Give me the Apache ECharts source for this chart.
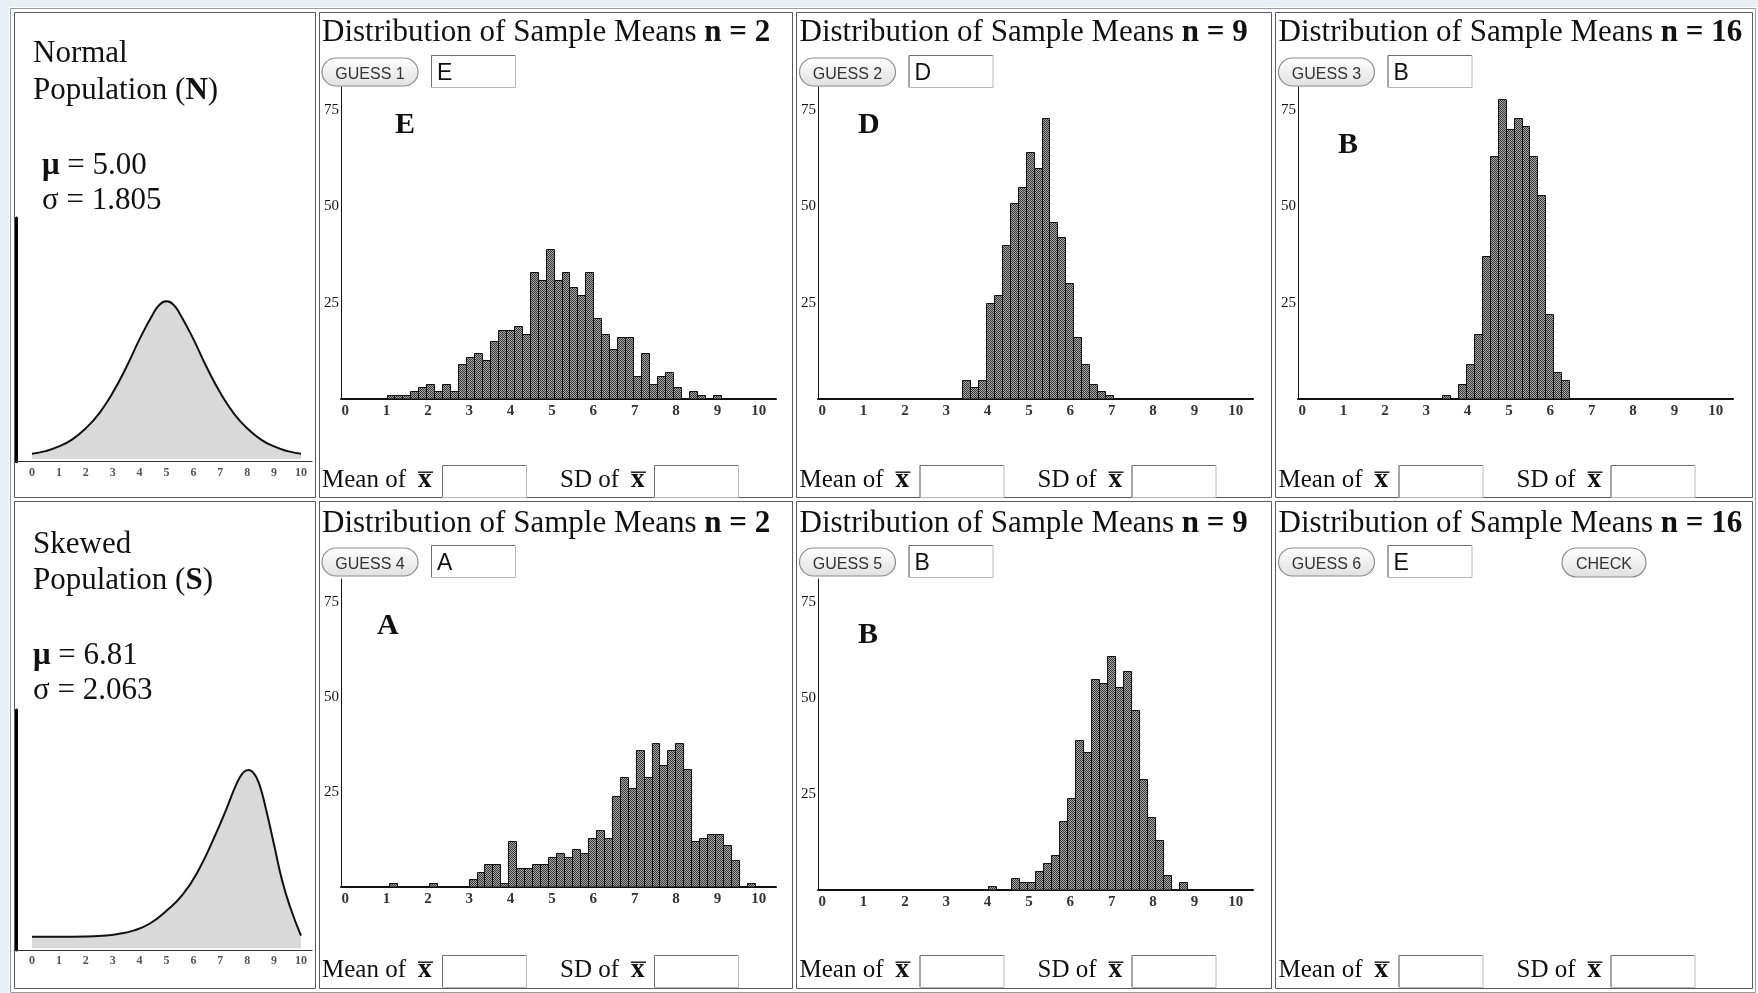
<!DOCTYPE html>
<html>
<head>
<meta charset="utf-8">
<title>Distribution of Sample Means</title>
<script src="https://cdn.jsdelivr.net/npm/echarts@6/dist/echarts.min.js"></script>
<style>
html, body { margin: 0; padding: 0; background: #e8eff6; }
#main { width: 1758px; height: 993px; }
</style>
</head>
<body>
<div id="main"></div>
<script>
'use strict';

// ---- data ----
var xTickVals = [0, 1, 2, 3, 4, 5, 6, 7, 8, 9, 10];
var yTickVals = [25, 50, 75];
var binWidth = 10 / 52;

// population curves (height relative to the peak)
var normalX = [0, 0.5, 1, 1.5, 2, 2.5, 3, 3.5, 4, 4.5, 4.75, 5, 5.25, 5.5, 6, 6.5, 7, 7.5, 8, 8.5, 9, 9.5, 10];
var normalY = [0.033, 0.05, 0.08, 0.125, 0.195, 0.29, 0.42, 0.58, 0.76, 0.92, 0.98, 1.0,
               0.98, 0.92, 0.76, 0.58, 0.42, 0.29, 0.195, 0.125, 0.08, 0.05, 0.033];
var skewX = [0, 1, 2, 2.6, 3.2, 3.8, 4.4, 5.0, 5.6, 6.2, 6.8, 7.2, 7.6, 7.85, 8.05, 8.25, 8.45, 8.7, 9.0, 9.3, 9.6, 10];
var skewY = [0.065, 0.065, 0.066, 0.07, 0.08, 0.10, 0.14, 0.21, 0.30, 0.44, 0.63, 0.77, 0.92, 0.985, 1.0,
             0.98, 0.92, 0.78, 0.58, 0.38, 0.23, 0.07];

// histograms: left edge of first bin + counts
var startE = 1.0;
var countsE = [1, 1, 1, 2, 3, 4, 2, 4, 2, 9, 11, 12, 10, 15, 18, 18, 19, 17, 33, 31, 39, 31, 33, 29, 27,
               33, 21, 17, 13, 16, 16, 6, 12, 4, 6, 7, 3, 0, 2, 1, 0, 1];
var startD = 3.38;
var countsD = [5, 3, 5, 25, 27, 40, 51, 55, 64, 60, 73, 46, 42, 30, 16, 9, 4, 2, 1];
var startBn = 3.38;
var countsBn = [1, 0, 4, 9, 17, 37, 63, 78, 70, 73, 71, 63, 53, 22, 7, 5];
var startA = 1.06;
var countsA = [1, 0, 0, 0, 0, 1, 0, 0, 0, 0, 2, 4, 6, 6, 1, 12, 5, 5, 6, 6, 8, 9, 8, 10, 9, 13, 15, 13,
               24, 29, 26, 36, 29, 38, 32, 36, 38, 31, 12, 13, 14, 14, 11, 7, 0, 1];
var startBs = 4.0;
var countsBs = [1, 0, 0, 3, 2, 2, 5, 7, 9, 18, 24, 39, 36, 55, 54, 61, 53, 57, 47, 29, 19, 13, 4, 0, 2];

var sampleSizes = [2, 9, 16];
var guessLetters = ['E', 'D', 'B', 'A', 'B', 'E'];
var panelLetters = ['E', 'D', 'B', 'A', 'B'];

var SERIF = '"Liberation Serif", "Times New Roman", serif';
var SANS = '"Liberation Sans", Arial, sans-serif';

var chart = echarts.init(document.getElementById('main'));

// checkered fill like the applet bars
var tile = document.createElement('canvas');
tile.width = 2;
tile.height = 2;
var tc = tile.getContext('2d');
tc.fillStyle = '#a6a6a6';
tc.fillRect(0, 0, 2, 2);
tc.fillStyle = '#383838';
tc.fillRect(0, 0, 1, 1);
tc.fillRect(1, 1, 1, 1);
var barFill = { image: tile, repeat: 'repeat' };

function zip(xs, ys) {
    return xs.map(function(x, i) { return [x, ys[i]]; });
}

// ---- grids ----
var grids = [
    { left: 16.5, top: 218, width: 295.5, height: 243.7 },
    { left: 16.5, top: 710, width: 295.5, height: 240 },
    { left: 341, top: 87, width: 435, height: 312 },
    { left: 818, top: 87, width: 435, height: 312 },
    { left: 1298, top: 87, width: 435, height: 312 },
    { left: 341, top: 579, width: 435, height: 308 },
    { left: 818, top: 579, width: 435, height: 311 }
];

function popX(i) {
    return {
        type: 'value', gridIndex: i, min: -0.576, max: 10.41,
        axisLine: { show: true, onZero: false, lineStyle: { color: '#333', width: 1 } },
        axisTick: { show: false }, splitLine: { show: false },
        axisLabel: { customValues: xTickVals, margin: 5, fontSize: 12, fontWeight: 'bold', color: '#555', fontFamily: SERIF }
    };
}
function popY(i, min, max) {
    return {
        type: 'value', gridIndex: i, min: min, max: max,
        axisLine: { show: true, onZero: false, lineStyle: { color: '#000', width: 3 } },
        axisTick: { show: false }, splitLine: { show: false }, axisLabel: { show: false }
    };
}
function histX(i) {
    return {
        type: 'value', gridIndex: i, min: -0.1, max: 10.415,
        axisLine: { show: true, onZero: false, lineStyle: { color: '#111', width: 2 } },
        axisTick: { show: false }, splitLine: { show: false },
        axisLabel: { customValues: xTickVals, margin: 5, fontSize: 15, fontWeight: 'bold', color: '#333', fontFamily: SERIF }
    };
}
function histY(i) {
    return {
        type: 'value', gridIndex: i, min: 0, max: 81,
        axisLine: { show: true, onZero: false, lineStyle: { color: '#111', width: 1 } },
        axisTick: { show: false }, splitLine: { show: false },
        axisLabel: { customValues: yTickVals, margin: 2, fontSize: 15, color: '#111', fontFamily: SERIF }
    };
}

function curveSeries(i, xs, ys) {
    return {
        type: 'line', xAxisIndex: i, yAxisIndex: i, data: zip(xs, ys),
        smooth: 0.5, symbol: 'none', silent: true,
        lineStyle: { color: '#111', width: 2 },
        areaStyle: { color: '#d9d9d9', opacity: 1 }
    };
}

function histSeries(i, start, counts) {
    var data = counts.map(function(c, k) {
        return [start + k * binWidth, start + (k + 1) * binWidth, c];
    });
    return {
        type: 'custom', xAxisIndex: i, yAxisIndex: i, data: data, silent: true,
        encode: { x: [0, 1], y: 2 },
        renderItem: function(params, api) {
            var c = api.value(2);
            if (!c) return null;
            var p0 = api.coord([api.value(0), c]);
            var p1 = api.coord([api.value(1), 0]);
            var x0 = Math.round(p0[0]) + 0.5, x1 = Math.round(p1[0]) + 0.5;
            var y0 = Math.round(p0[1]) + 0.5, y1 = Math.round(p1[1]);
            return {
                type: 'rect',
                shape: { x: x0, y: y0, width: x1 - x0, height: y1 - y0 },
                style: { fill: barFill, stroke: '#111', lineWidth: 1 }
            };
        }
    };
}

// ---- page furniture (text, buttons, boxes) ----
var BASE_SHIFT = 0.24;
function serifText(x, baseline, text, size, bold) {
    return {
        type: 'text', x: x, y: baseline - BASE_SHIFT * size,
        style: { text: text, font: (bold ? 'bold ' : '') + size + 'px ' + SERIF, fill: '#111', textVerticalAlign: 'middle' }
    };
}
function richText(x, baseline, text, size) {
    return {
        type: 'text', x: x, y: baseline - BASE_SHIFT * size,
        style: {
            text: text, font: size + 'px ' + SERIF, fill: '#111', textVerticalAlign: 'middle',
            rich: {
                r: { fontSize: size, fontFamily: SERIF, fill: '#111' },
                b: { fontSize: size, fontFamily: SERIF, fontWeight: 'bold', fill: '#111' }
            }
        }
    };
}
function button(x, y, w, h, label) {
    return [{
        type: 'rect', shape: { x: x, y: y, width: w, height: h, r: h / 2 },
        style: {
            fill: new echarts.graphic.LinearGradient(0, 0, 0, 1, [
                { offset: 0, color: '#ffffff' }, { offset: 1, color: '#e0e0e0' }]),
            stroke: '#8c8c8c', lineWidth: 1.2
        }
    }, {
        type: 'text', x: x + w / 2, y: y + h / 2 + 2.5,
        style: { text: label, font: '16px ' + SANS, fill: '#333', textAlign: 'center', textVerticalAlign: 'middle' }
    }];
}
function inputBox(x, y, w, h, value) {
    var els = [{
        type: 'rect', shape: { x: x + 0.5, y: y + 0.5, width: w, height: h },
        style: { fill: '#fff', stroke: '#b8b8b8', lineWidth: 1 }
    }, {
        type: 'polyline', shape: { points: [[x + 0.5, y + h], [x + 0.5, y + 0.5], [x + w, y + 0.5]] },
        style: { stroke: '#707070', lineWidth: 1, fill: null }
    }];
    if (value) {
        els.push({
            type: 'text', x: x + 6, y: y + h / 2 + 2.5,
            style: { text: value, font: '23px ' + SANS, fill: '#111', textVerticalAlign: 'middle' }
        });
    }
    return els;
}
function xBar(x, baseline) {
    return [serifText(x, baseline, 'x', 27, true), {
        type: 'line', shape: { x1: x, y1: baseline - 14.5, x2: x + 15, y2: baseline - 14.5 },
        style: { stroke: '#222', lineWidth: 1.5 }
    }];
}
function frame(x0, y0, x1, y1, color) {
    return {
        type: 'rect', shape: { x: x0, y: y0, width: x1 - x0, height: y1 - y0 },
        style: { fill: null, stroke: color, lineWidth: 1 }
    };
}

var graphics = [
    { type: 'rect', z: -10, shape: { x: 9, y: 7, width: 1749, height: 986 }, style: { fill: '#ffffff' } },
    frame(10.5, 8.5, 1755.5, 992.5, '#9a9a9a')
];
var colX = [[14.5, 315.5], [319.5, 792.5], [796.5, 1271.5], [1275.5, 1752.5]];
var rowY = [[12.5, 497.5], [501.5, 988.5]];
rowY.forEach(function(ry) {
    colX.forEach(function(cx) {
        graphics.push(frame(cx[0], ry[0], cx[1], ry[1], '#5a5a5a'));
    });
});

// population panels
graphics.push(serifText(33, 61, 'Normal', 31));
graphics.push(richText(33, 98, '{r|Population (}{b|N}{r|)}', 31));
graphics.push(richText(42, 173.3, '{b|μ}{r| = 5.00}', 31));
graphics.push(richText(42, 208.3, '{r|σ = 1.805}', 31));
graphics.push(serifText(33, 552.5, 'Skewed', 31));
graphics.push(richText(33, 588.5, '{r|Population (}{b|S}{r|)}', 31));
graphics.push(richText(33, 663, '{b|μ}{r| = 6.81}', 31));
graphics.push(richText(33, 698.3, '{r|σ = 2.063}', 31));

// sample-mean panels
var colOffset = [0, 477.5, 956.5];
var rowOffset = [0, 490];
rowOffset.forEach(function(oy, r) {
    colOffset.forEach(function(ox, c) {
        graphics.push(richText(322 + ox, 40.7 + oy + (r ? 1 : 0),
            '{r|Distribution of Sample Means }{b|n = ' + sampleSizes[c] + '}', 31));
        graphics = graphics.concat(button(322 + ox, 58 + oy, 96, 28, 'GUESS ' + (r * 3 + c + 1)));
        graphics = graphics.concat(inputBox(431 + ox, 55 + oy, 84, 32, guessLetters[r * 3 + c]));
        graphics.push(serifText(322 + ox, 486.7 + oy, 'Mean of', 25));
        graphics = graphics.concat(xBar(418 + ox, 486.7 + oy));
        graphics = graphics.concat(inputBox(442 + ox, 465 + oy, 84, 32));
        graphics.push(serifText(560 + ox, 486.7 + oy, 'SD of', 25));
        graphics = graphics.concat(xBar(631 + ox, 486.7 + oy));
        graphics = graphics.concat(inputBox(654 + ox, 465 + oy, 84, 32));
    });
});
graphics = graphics.concat(button(1562, 548, 84, 29, 'CHECK'));

// letters inside histograms
var letterPos = [[395, 132], [858, 132], [1338, 152], [377, 633], [858, 642]];
letterPos.forEach(function(p, i) {
    graphics.push(serifText(p[0], p[1], panelLetters[i], 30, true));
});

var option = {
    animation: false,
    backgroundColor: '#e8eff6',
    grid: grids,
    xAxis: [popX(0), popX(1), histX(2), histX(3), histX(4), histX(5), histX(6)],
    yAxis: [popY(0, -0.017, 1.528), popY(1, -0.01, 1.336), histY(2), histY(3), histY(4), histY(5), histY(6)],
    series: [
        curveSeries(0, normalX, normalY),
        curveSeries(1, skewX, skewY),
        histSeries(2, startE, countsE),
        histSeries(3, startD, countsD),
        histSeries(4, startBn, countsBn),
        histSeries(5, startA, countsA),
        histSeries(6, startBs, countsBs)
    ],
    graphic: { elements: graphics }
};

chart.setOption(option);
window.onresize = function() {
    chart.resize();
};
</script>
</body>
</html>
